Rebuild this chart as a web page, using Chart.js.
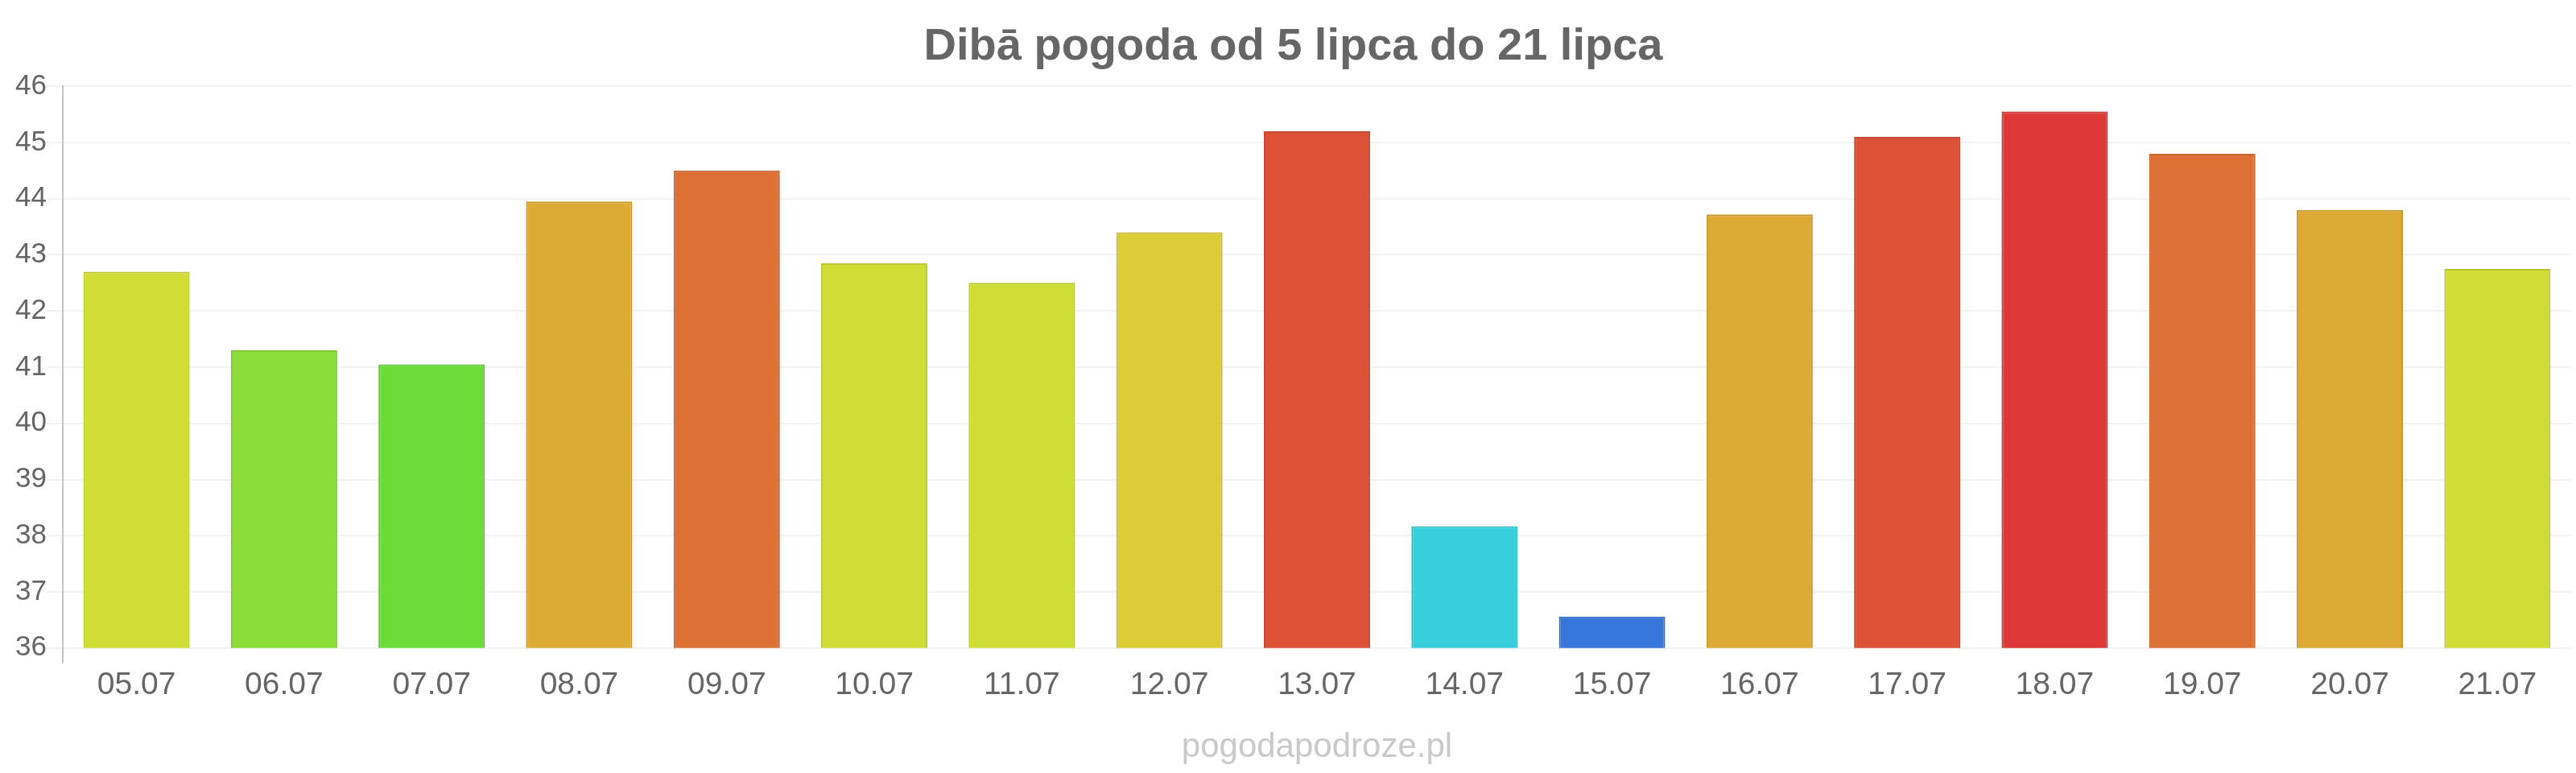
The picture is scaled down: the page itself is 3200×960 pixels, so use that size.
<!DOCTYPE html>
<html lang="pl">
  <head>
    <meta charset="UTF-8" />
    <title>Dibā pogoda</title>
    <script src="https://cdn.jsdelivr.net/npm/chart.js"></script>
    <style>
      body { margin: 0; background: #fff; }
      #wrap { width: 3200px; height: 960px; }
    </style>
  </head>
  <body>
    <div id="wrap">
      <canvas id="weatherChart" width="3200" height="960"></canvas>
    </div>

    <script>
      // dane
      const days = ["05.07", "06.07", "07.07", "08.07", "09.07", "10.07", "11.07", "12.07", "13.07",
        "14.07", "15.07", "16.07", "17.07", "18.07", "19.07", "20.07", "21.07"];
      const temps = [42.7, 41.3, 41.05, 43.95, 44.5, 42.85, 42.5, 43.4, 45.2,
        38.17, 36.56, 43.72, 45.1, 45.55, 44.8, 43.8, 42.75];
      const barColors = ["#d0dd35", "#8cdd38", "#6cdc38", "#dcaa35", "#dc7035", "#d0dd35", "#d0dd35",
        "#dccd35", "#dc5236", "#37cfdb", "#3777db", "#dcaa35", "#dc5236", "#dc3838", "#dc7035",
        "#dcaa35", "#d0dd35"];
      const yTicks = [36, 37, 38, 39, 40, 41, 42, 43, 44, 45, 46];

      const font = "'Liberation Sans', Arial, sans-serif";

      function darker(hex) {
        const n = parseInt(hex.slice(1), 16);
        const f = 0.9;
        const r = Math.round(((n >> 16) & 255) * f);
        const g = Math.round(((n >> 8) & 255) * f);
        const b = Math.round((n & 255) * f);
        return `rgb(${r}, ${g}, ${b})`;
      }

      const ctx = document.getElementById("weatherChart").getContext("2d");
      new Chart(ctx, {
        type: "bar",
        data: {
          labels: days,
          datasets: [
            {
              data: temps,
              backgroundColor: barColors,
              borderColor: barColors.map(darker),
              borderWidth: 2,
              barPercentage: 0.72,
              categoryPercentage: 1,
            },
          ],
        },
        options: {
          responsive: false,
          animation: false,
          layout: { padding: { left: 19, right: 6 } },
          plugins: {
            legend: { display: false },
            tooltip: { enabled: false },
            title: {
              display: true,
              text: "Dibā pogoda od 5 lipca do 21 lipca",
              color: "#666",
              font: { family: font, size: 56, weight: "bold" },
              padding: { top: 25, bottom: 15 },
            },
            subtitle: {
              display: true,
              position: "bottom",
              fullSize: false,
              text: "pogodapodroze.pl",
              color: "#c9c9cd",
              font: { family: font, size: 42 },
              padding: { top: 25, bottom: 6 },
            },
          },
          scales: {
            y: {
              min: yTicks[0],
              max: yTicks[yTicks.length - 1],
              afterBuildTicks: (axis) => {
                axis.ticks = yTicks.map((v) => ({ value: v }));
              },
              ticks: {
                color: "#666",
                padding: 0,
                font: { family: font, size: 35 },
              },
              grid: { color: "#f3f3f3", lineWidth: 2, tickLength: 20 },
              border: { color: "#c4c4c4", width: 2 },
            },
            x: {
              ticks: {
                color: "#666",
                padding: 4,
                font: { family: font, size: 39 },
              },
              grid: {
                drawOnChartArea: false,
                tickLength: 19,
                lineWidth: 2,
                color: (c) => (c.index === 0 ? "#c4c4c4" : "rgba(0,0,0,0)"),
              },
              border: { display: false },
            },
          },
        },
      });
    </script>
  </body>
</html>
